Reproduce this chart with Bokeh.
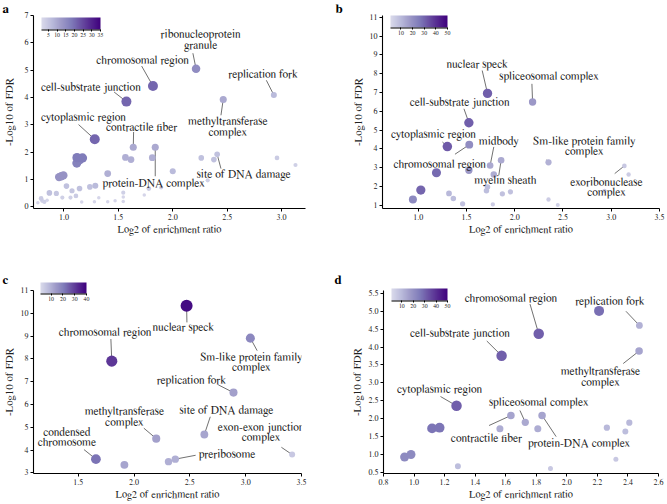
import numpy as np
from bokeh.plotting import figure
from bokeh.models import (ColumnDataSource, LinearColorMapper, ColorBar, FixedTicker,
                          Range1d, PrintfTickFormatter, AllLabels)
from bokeh.layouts import column, row
from bokeh.embed import file_html
from bokeh.resources import INLINE
from bokeh.core.properties import value

# ---------------- data ----------------
# panel a
a_names = ["ribonucleoprotein\ngranule", "chromosomal region", "cell-substrate junction",
           "replication fork", "methyltransferase\ncomplex", "cytoplasmic region",
           "contractile fiber", "protein-DNA complex", "site of DNA damage"]
a_x = [2.214, 1.818, 1.574, 2.929, 2.464, 1.283, 1.637, 1.839, 2.408,
       1.120, 1.170, 1.118, 1.145, 0.955, 0.975, 0.995,
       1.565, 1.616, 1.812, 1.402, 2.000, 2.262, 2.378, 2.958, 3.128, 2.321,
       1.893, 1.780, 1.738, 1.545, 1.545, 1.545, 1.470, 1.402, 1.320, 1.280, 1.163,
       1.288, 1.238, 1.143, 1.074, 1.023, 0.930, 0.866, 0.790, 0.985, 1.060, 1.110,
       0.820, 0.760, 0.800, 0.845]
a_y = [5.05, 4.42, 3.85, 4.09, 3.93, 2.47, 2.18, 2.18, 1.92,
       1.80, 1.79, 1.60, 1.72, 1.09, 1.12, 1.15,
       1.81, 1.73, 1.80, 1.22, 1.30, 1.79, 1.73, 1.79, 1.53, 0.97,
       0.71, 0.67, 0.43, 0.52, 0.36, 0.20, 0.22, 0.19, 0.33, 0.19, 0.18,
       0.77, 0.73, 0.67, 0.59, 0.76, 0.49, 0.51, 0.31, 0.34, 0.34, 0.40,
       0.18, 0.15, 0.22, 0.24]
a_count = [15, 21, 21, 7, 10, 21, 10, 10, 6,
           18, 18, 17, 17, 14, 14, 14,
           9, 9, 9, 9, 7, 6, 6, 4, 3, 3,
           3, 4, 2, 3, 2, 2, 2, 2, 2, 2, 2,
           7, 6, 6, 5, 6, 5, 6, 4, 3, 3, 4,
           3, 2, 3, 2]
a_lab_x = [2.256, 1.723, 1.247, 2.830, 2.506, 1.179, 1.714, 1.824, 2.652]
a_lab_y = [6.10, 5.36, 4.36, 4.85, 2.92, 3.26, 2.90, 0.85, 1.19]
a_lead_x = [2.185, 1.714, 1.461, 2.860, 2.443, 1.134, 1.640, 1.839, 2.443]
a_lead_y = [5.62, 5.15, 4.20, 4.63, 3.35, 3.01, 2.74, 1.12, 1.40]
a_xticks = [1.0, 1.5, 2.0, 2.5, 3.0]
a_yticks = [0, 1, 2, 3, 4, 5, 6, 7]
a_cbticks = [5, 10, 15, 20, 25, 30, 35]

# panel b
b_names = ["nuclear speck", "spliceosomal complex", "cell-substrate junction",
           "cytoplasmic region", "midbody", "chromosomal region",
           "Sm-like protein family\ncomplex", "myelin sheath", "exoribonuclease\ncomplex"]
b_x = [1.718, 2.185, 1.525, 1.302, 1.745, 1.529, 2.350, 1.859, 3.136,
       1.525, 1.189, 1.027, 0.945, 1.783, 1.319, 1.364, 1.460,
       1.718, 1.707, 1.773, 1.872, 1.955, 2.350, 2.446, 3.180, 2.930]
b_y = [6.95, 6.49, 5.39, 4.12, 3.11, 4.22, 3.28, 3.39, 3.09,
       2.86, 2.72, 1.80, 1.30, 2.63, 1.62, 1.35, 1.07,
       1.97, 1.76, 1.04, 1.60, 1.71, 1.30, 1.00, 2.63, 1.76]
b_count = [31, 18, 31, 32, 14, 21, 12, 14, 6,
           18, 29, 30, 22, 13, 10, 9, 8,
           9, 9, 5, 8, 8, 5, 4, 5, 5]
b_lab_x = [1.611, 2.356, 1.429, 1.158, 1.834, 1.223, 2.720, 1.903, 2.950]
b_lab_y = [8.47, 7.85, 6.49, 4.75, 4.40, 3.14, 4.13, 2.33, 1.94]
b_lead_x = [1.663, 2.178, 1.474, 1.251, 1.783, 1.381, 2.332, 1.835, 3.036]
b_lead_y = [8.17, 7.46, 6.13, 4.36, 4.10, 3.71, 3.42, 2.59, 2.68]
b_xticks = [1.0, 1.5, 2.0, 2.5, 3.0, 3.5]
b_yticks = [1, 2, 3, 4, 5, 6, 7, 8, 9, 10, 11]
b_cbticks = [10, 20, 30, 40, 50]

# panel c
c_names = ["nuclear speck", "chromosomal region", "Sm-like protein family\ncomplex",
           "replication fork", "site of DNA damage", "methyltransferase\ncomplex",
           "exon-exon junction\ncomplex", "condensed\nchromosome", "preribosome"]
c_x = [2.471, 1.801, 3.042, 2.891, 2.630, 2.199, 3.416, 1.659, 2.370, 1.914, 2.309]
c_y = [10.33, 7.90, 8.91, 6.52, 4.68, 4.50, 3.80, 3.60, 3.60, 3.35, 3.49]
c_count = [38, 31, 18, 13, 12, 13, 5, 22, 10, 12, 10]
c_lab_x = [2.442, 1.741, 3.051, 2.514, 2.828, 1.914, 3.138, 1.399, 2.833]
c_lab_y = [9.36, 9.15, 7.84, 7.07, 5.74, 5.44, 4.78, 4.54, 3.81]
c_lead_x = [2.474, 1.793, 3.103, 2.755, 2.683, 2.088, 3.320, 1.552, 2.552]
c_lead_y = [9.60, 8.87, 8.36, 6.86, 5.46, 4.96, 4.12, 4.02, 3.77]
c_xticks = [1.5, 2.0, 2.5, 3.0, 3.5]
c_yticks = [3, 4, 5, 6, 7, 8, 9, 10, 11]
c_cbticks = [10, 20, 30, 40]

# panel d
d_names = ["chromosomal region", "replication fork", "cell-substrate junction",
           "methyltransferase\ncomplex", "cytoplasmic region", "spliceosomal complex",
           "contractile fiber", "protein-DNA complex"]
d_x = [1.816, 2.475, 1.573, 2.473, 1.278, 1.728, 1.634, 1.838,
       2.211, 1.118, 1.167, 0.938, 0.980, 1.562, 1.810, 2.262, 2.383, 2.409,
       1.287, 1.893, 2.321]
d_y = [4.37, 4.605, 3.76, 3.89, 2.36, 1.90, 2.09, 2.09,
       5.01, 1.73, 1.75, 0.93, 1.00, 1.72, 1.72, 1.75, 1.64, 1.89,
       0.675, 0.61, 0.87]
d_count = [31, 12, 31, 15, 31, 14, 15, 15,
           28, 27, 27, 22, 22, 13, 13, 10, 9, 10,
           9, 6, 6]
d_lab_x = [1.634, 2.282, 1.300, 2.220, 1.167, 1.816, 1.474, 2.080]
d_lab_y = [5.37, 5.27, 4.37, 3.17, 2.81, 2.46, 1.46, 1.31]
d_lead_x = [1.759, 2.387, 1.476, 2.369, 1.173, 1.693, 1.491, 1.930]
d_lead_y = [5.20, 5.00, 4.17, 3.54, 2.62, 2.23, 1.81, 1.50]
d_xticks = [0.8, 1.0, 1.2, 1.4, 1.6, 1.8, 2.0, 2.2, 2.4, 2.6]
d_yticks = [0.5, 1.0, 1.5, 2.0, 2.5, 3.0, 3.5, 4.0, 4.5, 5.0, 5.5]
d_cbticks = [10, 20, 30, 40, 50]

# ---------------- styling ----------------
FONT = "FreeSerif"
STOPS = ['#dadaeb', '#bcbddc', '#9e9ac8', '#807dba', '#6a51a3', '#54278f', '#3f007d']


def build_palette(stops, n=256):
    rgb = np.array([[int(s[i:i + 2], 16) for i in (1, 3, 5)] for s in stops], float)
    t = np.linspace(0, 1, len(stops))
    out = []
    for v in np.linspace(0, 1, n):
        r, g, b = (np.interp(v, t, rgb[:, k]) for k in range(3))
        out.append('#%02x%02x%02x' % (int(round(r)), int(round(g)), int(round(b))))
    return out


PALETTE = build_palette(STOPS)


def make_panel(letter, names, xs, ys, counts, lab_x, lab_y, lead_x, lead_y,
               xr, yr, xticks, yticks, xfmt, yfmt, cb_high, cb_ticks, geo):
    W, H = geo['W'], geo['H']
    ml, mr, mt, mb = geo['ml'], geo['mr'], geo['mt'], geo['mb']
    p = figure(width=W, height=H, x_range=Range1d(*xr), y_range=Range1d(*yr),
               output_backend="svg", toolbar_location=None, title=letter,
               min_border_left=ml, min_border_right=mr,
               min_border_top=mt, min_border_bottom=mb)
    p.title.align = "left"
    p.title.offset = geo['toff']
    p.title.standoff = geo['tstand']
    p.title.text_font = FONT
    p.title.text_font_size = "13px"
    p.title.text_font_style = "bold"
    p.title.text_color = "black"
    p.outline_line_color = None
    p.xgrid.visible = False
    p.ygrid.visible = False
    p.background_fill_color = "white"
    p.border_fill_color = "white"

    for ax in (p.xaxis[0], p.yaxis[0]):
        ax.axis_line_color = "black"
        ax.axis_line_width = 1.1
        ax.major_tick_line_color = "black"
        ax.major_tick_in = 0
        ax.major_tick_out = 3
        ax.minor_tick_line_color = None
        ax.major_label_text_font = FONT
        ax.major_label_text_font_size = "8px"
        ax.major_label_text_color = "#222222"
        ax.axis_label_text_font = FONT
        ax.axis_label_text_font_style = "normal"
        ax.axis_label_text_color = "#222222"
    p.xaxis.ticker = FixedTicker(ticks=xticks)
    p.yaxis.ticker = FixedTicker(ticks=yticks)
    p.xaxis.formatter = PrintfTickFormatter(format=xfmt)
    p.yaxis.formatter = PrintfTickFormatter(format=yfmt)
    p.xaxis.axis_label = "Log2 of enrichment ratio"
    p.yaxis.axis_label = "-Log10 of FDR"
    p.xaxis.axis_label_text_font_size = "10.5px"
    p.yaxis.axis_label_text_font_size = "11px"
    p.xaxis.major_label_standoff = 3
    p.xaxis.axis_label_standoff = 2
    p.yaxis.major_label_standoff = 2
    p.yaxis.axis_label_standoff = geo.get('ystand', 3)

    mapper = LinearColorMapper(palette=PALETTE, low=1, high=cb_high)

    c = np.array(counts, float)
    dmin, dmax = geo['dmin'], geo['dmax']
    sq = np.sqrt(c)
    sizes = dmin + (dmax - dmin) * (sq - sq.min()) / (sq.max() - sq.min())

    n = len(lab_x)
    lead = ColumnDataSource(dict(x0=lead_x, y0=lead_y, x1=xs[:n], y1=ys[:n]))
    p.segment(x0='x0', y0='y0', x1='x1', y1='y1', source=lead,
              line_color="#4d4d4d", line_width=0.8)

    order = np.argsort(c, kind="stable")
    pts = ColumnDataSource(dict(x=[xs[i] for i in order], y=[ys[i] for i in order],
                                count=[counts[i] for i in order],
                                size=[float(sizes[i]) for i in order]))
    p.scatter('x', 'y', size='size', source=pts, line_color=None,
              fill_color={'field': 'count', 'transform': mapper}, fill_alpha=1.0)

    labs = ColumnDataSource(dict(x=lab_x, y=lab_y, text=names))
    p.text('x', 'y', text='text', source=labs, text_font=value(FONT),
           text_font_size="11.5px", text_align="center", text_baseline="middle",
           text_color="#1a1a1a", text_line_height=0.95)

    # colour bar in the top-left corner of the frame
    fh = geo['fh']
    bw, bh, bx, btop = geo['cbw'], geo['cbh'], geo['cbx'], geo['cbtop']
    label_h = 7
    box_h = bh + 2 + 1 + label_h
    cb = ColorBar(color_mapper=mapper, orientation="horizontal", width=bw, height=bh,
                  location=(bx, fh - btop - box_h), padding=0, margin=0,
                  ticker=FixedTicker(ticks=cb_ticks), major_label_policy=AllLabels(),
                  major_label_text_font=FONT, major_label_text_font_size="5.8px",
                  major_label_text_color="#222222",
                  label_standoff=1, major_tick_in=0, major_tick_out=2,
                  major_tick_line_color="black", minor_tick_line_color=None,
                  bar_line_color=None, border_line_color=None,
                  background_fill_alpha=0)
    p.add_layout(cb)
    base_mapper = LinearColorMapper(palette=['#000000', '#000000'], low=0, high=1)
    base = ColorBar(color_mapper=base_mapper, orientation="horizontal", width=bw, height=1,
                    location=(bx, fh - btop - bh - 1), padding=0, margin=0,
                    ticker=FixedTicker(ticks=[]), major_label_text_font_size="1px",
                    major_tick_line_color=None, minor_tick_line_color=None,
                    bar_line_color=None, border_line_color=None,
                    background_fill_alpha=0)
    p.add_layout(base)
    return p


geo_a = dict(W=330, H=250, ml=26, mr=25, mt=0, mb=42, fh=193, dmin=3.5, dmax=10.0,
             cbw=59, cbh=12, cbx=8, cbtop=2, toff=-31, tstand=0, ystand=7)
geo_b = dict(W=335, H=250, ml=52, mr=6, mt=0, mb=42, fh=193, dmin=4.0, dmax=9.5,
             cbw=57, cbh=12, cbx=8, cbtop=0, toff=-47, tstand=0, ystand=3)
geo_c = dict(W=330, H=252, ml=26, mr=29, mt=33, mb=28, fh=191, dmin=6.0, dmax=12.0,
             cbw=46, cbh=11, cbx=7, cbtop=0, toff=-31, tstand=7, ystand=3)
geo_d = dict(W=335, H=252, ml=53, mr=7, mt=40, mb=27, fh=185, dmin=5.0, dmax=10.5,
             cbw=56, cbh=12, cbx=8, cbtop=0, toff=-49, tstand=7, ystand=3)

pa = make_panel("a", a_names, a_x, a_y, a_count, a_lab_x, a_lab_y, a_lead_x, a_lead_y,
                (0.72, 3.22), (-0.06, 7.0), a_xticks, a_yticks, "%.1f", "%d", 35, a_cbticks, geo_a)
pb = make_panel("b", b_names, b_x, b_y, b_count, b_lab_x, b_lab_y, b_lead_x, b_lead_y,
                (0.63, 3.5), (0.82, 11.1), b_xticks, b_yticks, "%.1f", "%d", 50, b_cbticks, geo_b)
pc = make_panel("c", c_names, c_x, c_y, c_count, c_lab_x, c_lab_y, c_lead_x, c_lead_y,
                (1.10, 3.5), (2.97, 11.0), c_xticks, c_yticks, "%.1f", "%d", 40, c_cbticks, geo_c)
pd = make_panel("d", d_names, d_x, d_y, d_count, d_lab_x, d_lab_y, d_lead_x, d_lead_y,
                (0.8, 2.6), (0.47, 5.58), d_xticks, d_yticks, "%.1f", "%.1f", 50, d_cbticks, geo_d)

layout = column(row(pa, pb), row(pc, pd))
open("out.html", "w").write(file_html(layout, INLINE))
